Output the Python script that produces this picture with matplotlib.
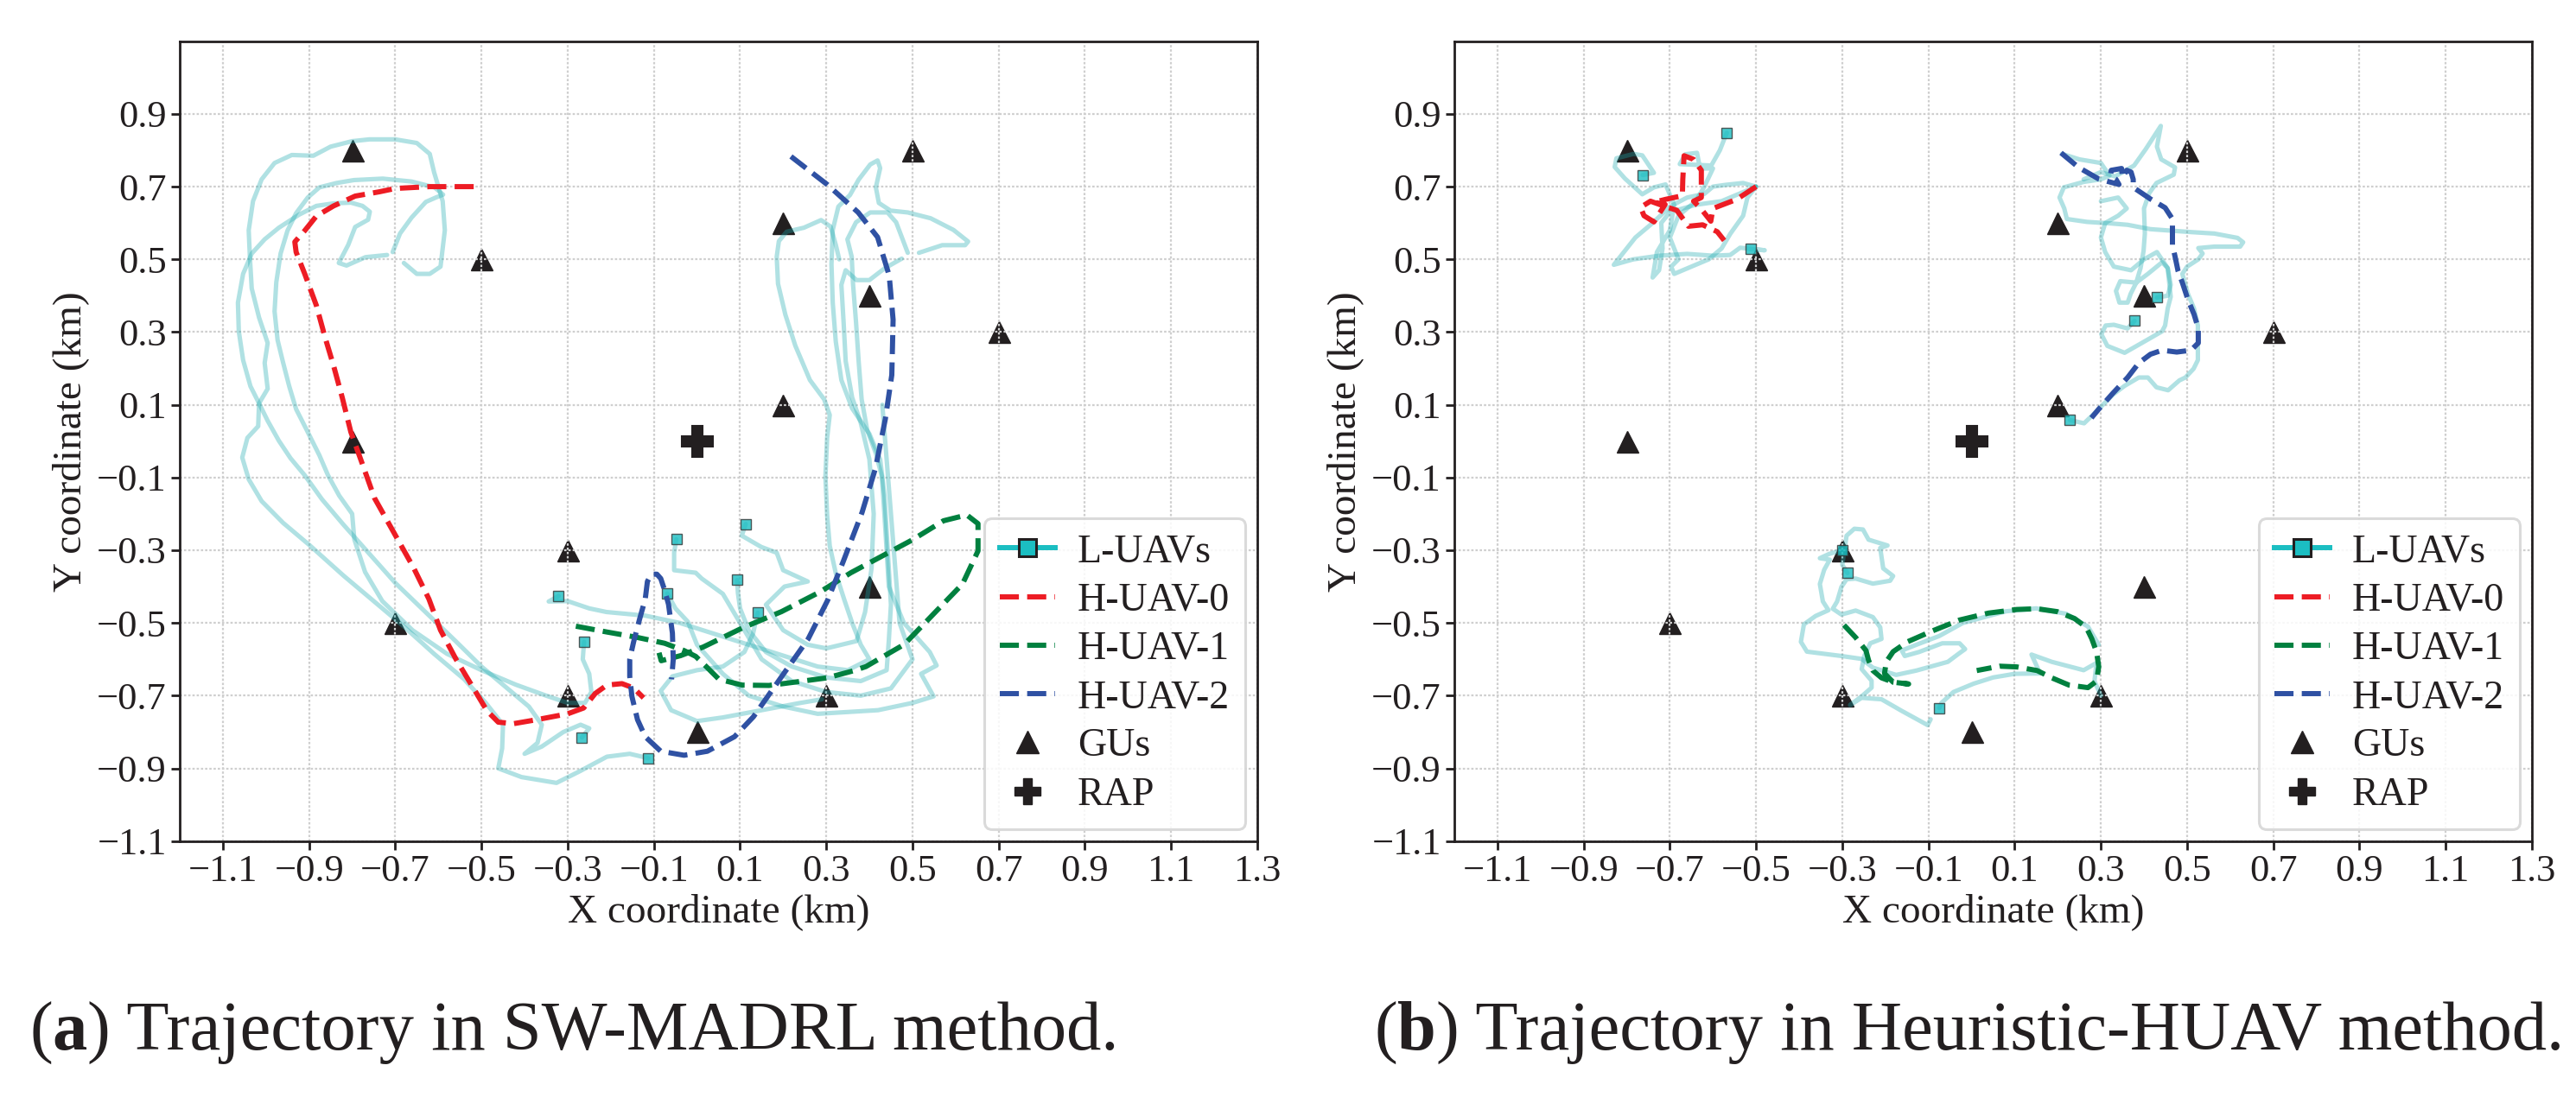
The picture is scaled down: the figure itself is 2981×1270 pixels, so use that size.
import numpy as np
import matplotlib
matplotlib.use('Agg')
import matplotlib.pyplot as plt
from matplotlib.lines import Line2D

plt.rcParams['font.family'] = ['Liberation Serif', 'DejaVu Serif']
plt.rcParams['axes.unicode_minus'] = True

# ---------------- data ----------------
gu_x = [-0.8, -0.5, 0.5, 0.2, 0.4, 0.7, 0.2, -0.8, -0.3, 0.4, -0.7, -0.3, 0.3, 0.0]
gu_y = [0.8, 0.5, 0.8, 0.6, 0.4, 0.3, 0.1, 0.0, -0.3, -0.4, -0.5, -0.7, -0.7, -0.8]
rap = (0.0, 0.0)

x_ticks = [-1.1, -0.9, -0.7, -0.5, -0.3, -0.1, 0.1, 0.3, 0.5, 0.7, 0.9, 1.1, 1.3]
y_ticks = [-1.1, -0.9, -0.7, -0.5, -0.3, -0.1, 0.1, 0.3, 0.5, 0.7, 0.9]

# (a) SW-MADRL: L-UAV trajectories (last point = final position)
a_luav = [
    [(-0.68, 0.49), (-0.65, 0.46), (-0.62, 0.46), (-0.595, 0.48), (-0.585, 0.58), (-0.59, 0.66),
     (-0.61, 0.74), (-0.62, 0.79), (-0.65, 0.82), (-0.70, 0.83), (-0.76, 0.83), (-0.80, 0.825),
     (-0.85, 0.81), (-0.89, 0.785), (-0.94, 0.787), (-0.98, 0.765), (-1.01, 0.72), (-1.03, 0.66),
     (-1.04, 0.58), (-1.037, 0.50), (-1.033, 0.42), (-1.016, 0.34), (-0.996, 0.27), (-1.003, 0.215),
     (-0.996, 0.144), (-1.016, 0.104), (-1.018, 0.041), (-1.043, 0.009), (-1.055, -0.045),
     (-1.04, -0.105), (-1.01, -0.165), (-0.96, -0.225), (-0.90, -0.285), (-0.82, -0.37),
     (-0.75, -0.44), (-0.68, -0.51), (-0.61, -0.585), (-0.54, -0.655), (-0.49, -0.72),
     (-0.45, -0.78), (-0.452, -0.845), (-0.461, -0.90), (-0.407, -0.924), (-0.326, -0.94),
     (-0.272, -0.908), (-0.209, -0.868), (-0.156, -0.86), (-0.113, -0.872)],
    [(-0.706, 0.52), (-0.689, 0.571), (-0.662, 0.615), (-0.629, 0.658), (-0.606, 0.67),
     (-0.589, 0.678), (-0.609, 0.698), (-0.662, 0.714), (-0.729, 0.722), (-0.796, 0.718),
     (-0.836, 0.71), (-0.876, 0.698), (-0.903, 0.67), (-0.93, 0.627), (-0.95, 0.579),
     (-0.966, 0.516), (-0.976, 0.437), (-0.98, 0.357), (-0.973, 0.278), (-0.96, 0.215),
     (-0.946, 0.151), (-0.93, 0.088), (-0.903, 0.025), (-0.876, -0.039), (-0.856, -0.094),
     (-0.83, -0.15), (-0.80, -0.20), (-0.795, -0.27), (-0.77, -0.36), (-0.73, -0.44),
     (-0.66, -0.52), (-0.58, -0.585), (-0.50, -0.63), (-0.42, -0.67), (-0.35, -0.70),
     (-0.30, -0.72), (-0.26, -0.72), (-0.245, -0.69), (-0.25, -0.64), (-0.265, -0.60),
     (-0.262, -0.552)],
    [(-0.719, 0.512), (-0.769, 0.506), (-0.813, 0.483), (-0.831, 0.49), (-0.809, 0.54),
     (-0.793, 0.589), (-0.763, 0.609), (-0.759, 0.631), (-0.776, 0.647), (-0.803, 0.656),
     (-0.843, 0.654), (-0.883, 0.647), (-0.923, 0.623), (-0.97, 0.587), (-1.003, 0.555),
     (-1.033, 0.516), (-1.053, 0.46), (-1.065, 0.381), (-1.063, 0.302), (-1.053, 0.223),
     (-1.036, 0.151), (-1.016, 0.104), (-0.996, 0.056), (-0.97, 0.001), (-0.943, -0.047),
     (-0.91, -0.094), (-0.87, -0.16), (-0.82, -0.23), (-0.76, -0.31), (-0.70, -0.39),
     (-0.63, -0.47), (-0.56, -0.55), (-0.50, -0.62), (-0.44, -0.68), (-0.39, -0.73),
     (-0.36, -0.78), (-0.37, -0.83), (-0.40, -0.86), (-0.36, -0.84), (-0.31, -0.80),
     (-0.27, -0.78), (-0.25, -0.79), (-0.267, -0.815)],
    [(0.33, 0.50), (0.322, 0.54), (0.31, 0.59), (0.288, 0.608), (0.248, 0.587), (0.208, 0.576),
     (0.19, 0.55), (0.185, 0.507), (0.188, 0.433), (0.205, 0.348), (0.228, 0.263), (0.262, 0.168),
     (0.295, 0.115), (0.308, 0.072), (0.302, 0.009), (0.298, -0.097), (0.302, -0.204),
     (0.308, -0.288), (0.322, -0.363), (0.342, -0.437), (0.36, -0.50), (0.38, -0.56),
     (0.40, -0.60), (0.35, -0.63), (0.28, -0.62), (0.20, -0.59), (0.12, -0.56), (0.04, -0.53),
     (-0.04, -0.50), (-0.12, -0.48), (-0.21, -0.47), (-0.25, -0.46), (-0.30, -0.44),
     (-0.344, -0.441), (-0.321, -0.426)],
    [(0.515, 0.518), (0.569, 0.539), (0.622, 0.539), (0.629, 0.549), (0.595, 0.581),
     (0.542, 0.613), (0.489, 0.629), (0.449, 0.634), (0.422, 0.655), (0.415, 0.698),
     (0.425, 0.751), (0.419, 0.772), (0.402, 0.761), (0.375, 0.719), (0.355, 0.677),
     (0.328, 0.645), (0.315, 0.581), (0.312, 0.486), (0.315, 0.38), (0.322, 0.274),
     (0.335, 0.168), (0.36, 0.09), (0.40, 0.02), (0.425, -0.05), (0.435, -0.15), (0.44, -0.25),
     (0.445, -0.35), (0.45, -0.45), (0.445, -0.55), (0.44, -0.63), (0.38, -0.66), (0.30, -0.65),
     (0.22, -0.62), (0.16, -0.58), (0.12, -0.52), (0.10, -0.46), (0.095, -0.418), (0.093, -0.382)],
    [(0.489, 0.518), (0.462, 0.602), (0.442, 0.629), (0.402, 0.629), (0.369, 0.602),
     (0.349, 0.555), (0.359, 0.507), (0.362, 0.433), (0.369, 0.327), (0.375, 0.221),
     (0.382, 0.115), (0.395, 0.03), (0.415, -0.034), (0.429, -0.097), (0.435, -0.204),
     (0.44, -0.30), (0.445, -0.40), (0.48, -0.50), (0.54, -0.58), (0.556, -0.617), (0.52, -0.64),
     (0.549, -0.702), (0.50, -0.72), (0.42, -0.74), (0.35, -0.745), (0.28, -0.75), (0.20, -0.73),
     (0.12, -0.70), (0.06, -0.64), (0.0, -0.56), (-0.021, -0.497), (-0.05, -0.46),
     (-0.069, -0.419)],
    [(0.475, 0.502), (0.435, 0.475), (0.40, 0.443), (0.37, 0.443), (0.345, 0.47), (0.335, 0.43),
     (0.34, 0.33), (0.345, 0.22), (0.36, 0.12), (0.38, 0.05), (0.40, -0.05), (0.41, -0.20),
     (0.405, -0.35), (0.39, -0.47), (0.37, -0.55), (0.30, -0.57), (0.257, -0.56), (0.20, -0.52),
     (0.16, -0.45), (0.203, -0.40), (0.257, -0.386), (0.20, -0.355), (0.185, -0.307),
     (0.149, -0.291), (0.104, -0.26), (0.113, -0.228)],
    [(0.43, 0.10), (0.44, -0.05), (0.45, -0.20), (0.46, -0.35), (0.47, -0.50), (0.50, -0.60),
     (0.45, -0.68), (0.38, -0.70), (0.30, -0.69), (0.22, -0.66), (0.15, -0.60), (0.10, -0.50),
     (0.06, -0.42), (0.011, -0.378), (-0.003, -0.362), (-0.053, -0.355), (-0.053, -0.307),
     (-0.048, -0.27)],
    [(0.29, -0.71), (0.24, -0.72), (0.15, -0.74), (0.06, -0.76), (0.0, -0.77), (-0.06, -0.74),
     (-0.084, -0.687), (-0.057, -0.647), (0.0, -0.63), (0.06, -0.62), (0.11, -0.58),
     (0.13, -0.53), (0.141, -0.472)],
]

a_huav = [
    [(-0.518, 0.70), (-0.62, 0.70), (-0.70, 0.695), (-0.736, 0.686), (-0.793, 0.674),
     (-0.843, 0.647), (-0.883, 0.619), (-0.91, 0.579), (-0.933, 0.548), (-0.93, 0.52),
     (-0.91, 0.46), (-0.883, 0.373), (-0.863, 0.286), (-0.843, 0.207), (-0.823, 0.12),
     (-0.803, 0.025), (-0.779, -0.054), (-0.748, -0.157), (-0.703, -0.252), (-0.658, -0.347),
     (-0.622, -0.434), (-0.595, -0.52), (-0.559, -0.60), (-0.523, -0.671), (-0.487, -0.742),
     (-0.461, -0.773), (-0.425, -0.777), (-0.371, -0.766), (-0.30, -0.75), (-0.263, -0.734),
     (-0.236, -0.694), (-0.209, -0.671), (-0.174, -0.667), (-0.147, -0.679), (-0.124, -0.706)],
    [(-0.281, -0.509), (-0.209, -0.525), (-0.138, -0.54), (-0.075, -0.556), (-0.03, -0.576),
     (-0.003, -0.592), (0.024, -0.623), (0.051, -0.655), (0.105, -0.671), (0.167, -0.672),
     (0.239, -0.661), (0.302, -0.651), (0.365, -0.631), (0.392, -0.62), (0.481, -0.559),
     (0.554, -0.469), (0.616, -0.393), (0.652, -0.302), (0.652, -0.227), (0.626, -0.203),
     (0.572, -0.219), (0.499, -0.272), (0.428, -0.317), (0.357, -0.362), (0.285, -0.415),
     (0.196, -0.469), (0.105, -0.514), (0.015, -0.566), (-0.038, -0.59), (-0.083, -0.604),
     (-0.088, -0.582)],
    [(0.218, 0.783), (0.303, 0.705), (0.374, 0.629), (0.419, 0.561), (0.446, 0.455),
     (0.455, 0.334), (0.452, 0.182), (0.437, 0.061), (0.414, -0.075), (0.383, -0.196),
     (0.339, -0.332), (0.303, -0.438), (0.258, -0.544), (0.195, -0.65), (0.131, -0.758),
     (0.087, -0.813), (0.024, -0.853), (-0.03, -0.864), (-0.084, -0.853), (-0.12, -0.813),
     (-0.138, -0.766), (-0.151, -0.702), (-0.156, -0.647), (-0.156, -0.60), (-0.147, -0.552),
     (-0.133, -0.489), (-0.12, -0.434), (-0.115, -0.386), (-0.106, -0.366), (-0.093, -0.366),
     (-0.084, -0.378), (-0.075, -0.41), (-0.066, -0.449), (-0.057, -0.528), (-0.055, -0.60),
     (-0.059, -0.655)],
]

# (b) Heuristic-HUAV
b_luav = [
    [(-0.50, 0.70), (-0.53, 0.71), (-0.57, 0.705), (-0.60, 0.70), (-0.62, 0.68), (-0.66, 0.67),
     (-0.70, 0.645), (-0.74, 0.60), (-0.78, 0.56), (-0.83, 0.485), (-0.785, 0.50), (-0.725, 0.51),
     (-0.66, 0.515), (-0.60, 0.51), (-0.56, 0.512), (-0.537, 0.532), (-0.48, 0.525),
     (-0.513, 0.528)],
    [(-0.50, 0.70), (-0.54, 0.68), (-0.58, 0.66), (-0.64, 0.65), (-0.70, 0.63), (-0.72, 0.60),
     (-0.717, 0.53), (-0.725, 0.47), (-0.74, 0.45), (-0.73, 0.52), (-0.70, 0.58), (-0.69, 0.65),
     (-0.71, 0.706), (-0.737, 0.698), (-0.764, 0.679), (-0.804, 0.722), (-0.828, 0.754),
     (-0.824, 0.778), (-0.784, 0.79), (-0.764, 0.786), (-0.737, 0.738), (-0.763, 0.732)],
    [(-0.50, 0.70), (-0.52, 0.67), (-0.53, 0.62), (-0.56, 0.57), (-0.58, 0.53), (-0.61, 0.50),
     (-0.65, 0.48), (-0.69, 0.46), (-0.697, 0.48), (-0.68, 0.50), (-0.70, 0.56), (-0.68, 0.62),
     (-0.64, 0.66), (-0.62, 0.70), (-0.60, 0.75), (-0.63, 0.75), (-0.637, 0.793),
     (-0.664, 0.789), (-0.677, 0.762), (-0.64, 0.76), (-0.604, 0.758), (-0.584, 0.80),
     (-0.568, 0.848)],
    [(0.21, 0.79), (0.25, 0.775), (0.30, 0.765), (0.32, 0.73), (0.30, 0.72), (0.26, 0.713),
     (0.214, 0.698), (0.204, 0.67), (0.215, 0.64), (0.221, 0.611), (0.268, 0.603),
     (0.321, 0.599), (0.362, 0.595), (0.415, 0.583), (0.462, 0.579), (0.509, 0.575),
     (0.563, 0.571), (0.617, 0.559), (0.63, 0.547), (0.623, 0.535), (0.563, 0.535),
     (0.526, 0.531), (0.536, 0.516), (0.526, 0.50), (0.50, 0.48), (0.489, 0.46), (0.502, 0.405),
     (0.516, 0.365), (0.525, 0.318), (0.525, 0.254), (0.525, 0.223), (0.515, 0.199),
     (0.496, 0.175), (0.482, 0.167), (0.456, 0.14), (0.429, 0.148), (0.409, 0.175),
     (0.388, 0.175), (0.355, 0.152), (0.328, 0.128), (0.288, 0.08), (0.261, 0.049),
     (0.228, 0.058)],
    [(0.26, 0.72), (0.30, 0.74), (0.333, 0.728), (0.377, 0.758), (0.404, 0.803), (0.439, 0.867),
     (0.43, 0.81), (0.44, 0.775), (0.472, 0.753), (0.469, 0.733), (0.429, 0.71), (0.412, 0.682),
     (0.40, 0.64), (0.402, 0.571), (0.399, 0.523), (0.392, 0.476), (0.382, 0.436),
     (0.369, 0.405), (0.362, 0.381), (0.343, 0.381), (0.335, 0.413), (0.345, 0.44),
     (0.382, 0.436), (0.409, 0.46), (0.442, 0.492), (0.455, 0.476), (0.462, 0.43),
     (0.455, 0.40), (0.43, 0.395)],
    [(0.30, 0.66), (0.34, 0.67), (0.36, 0.64), (0.34, 0.62), (0.31, 0.60), (0.30, 0.56),
     (0.31, 0.52), (0.33, 0.48), (0.37, 0.47), (0.40, 0.50), (0.43, 0.52), (0.455, 0.476),
     (0.462, 0.397), (0.455, 0.365), (0.449, 0.318), (0.442, 0.302), (0.395, 0.27),
     (0.355, 0.243), (0.315, 0.262), (0.301, 0.294), (0.311, 0.318), (0.33, 0.32),
     (0.362, 0.31), (0.378, 0.331)],
    [(0.30, -0.70), (0.285, -0.66), (0.29, -0.61), (0.26, -0.63), (0.186, -0.607),
     (0.139, -0.587), (0.159, -0.639), (0.10, -0.64), (0.05, -0.65), (0.005, -0.667),
     (-0.042, -0.69), (-0.07, -0.72), (-0.075, -0.734)],
    [(0.295, -0.56), (0.27, -0.51), (0.22, -0.475), (0.15, -0.46), (0.08, -0.468),
     (0.039, -0.481), (-0.02, -0.50), (-0.075, -0.536), (-0.128, -0.56), (-0.162, -0.576),
     (-0.155, -0.591), (-0.122, -0.58), (-0.068, -0.556), (-0.028, -0.556), (-0.015, -0.572),
     (-0.028, -0.583), (-0.055, -0.607), (-0.128, -0.631), (-0.175, -0.643), (-0.229, -0.623),
     (-0.255, -0.599), (-0.302, -0.591), (-0.382, -0.579), (-0.396, -0.552), (-0.389, -0.504),
     (-0.362, -0.481), (-0.332, -0.465), (-0.345, -0.441), (-0.352, -0.393), (-0.342, -0.354),
     (-0.329, -0.326), (-0.352, -0.322), (-0.33, -0.31), (-0.30, -0.30)],
    [(-0.095, -0.765), (-0.102, -0.781), (-0.162, -0.742), (-0.209, -0.71), (-0.255, -0.706),
     (-0.282, -0.726), (-0.255, -0.702), (-0.232, -0.678), (-0.232, -0.659), (-0.255, -0.627),
     (-0.249, -0.591), (-0.235, -0.556), (-0.209, -0.544), (-0.212, -0.512), (-0.229, -0.484),
     (-0.269, -0.466), (-0.302, -0.477), (-0.322, -0.461), (-0.312, -0.441), (-0.302, -0.401),
     (-0.29, -0.38), (-0.269, -0.378), (-0.229, -0.392), (-0.189, -0.384), (-0.182, -0.371),
     (-0.205, -0.35), (-0.212, -0.294), (-0.195, -0.287), (-0.239, -0.271), (-0.252, -0.243),
     (-0.272, -0.241), (-0.29, -0.26), (-0.295, -0.30), (-0.30, -0.34), (-0.288, -0.363)],
]

b_huav = [
    [(-0.50, 0.70), (-0.545, 0.665), (-0.60, 0.64), (-0.605, 0.605), (-0.625, 0.635),
     (-0.645, 0.66), (-0.627, 0.67), (-0.627, 0.745), (-0.645, 0.775), (-0.667, 0.785),
     (-0.67, 0.72), (-0.671, 0.675), (-0.71, 0.665), (-0.737, 0.657), (-0.711, 0.651),
     (-0.737, 0.603), (-0.76, 0.62), (-0.768, 0.643), (-0.745, 0.66), (-0.71, 0.645),
     (-0.684, 0.635), (-0.657, 0.591), (-0.624, 0.595), (-0.59, 0.576), (-0.574, 0.552)],
    [(-0.296, -0.506), (-0.269, -0.54), (-0.245, -0.576), (-0.239, -0.603), (-0.229, -0.631),
     (-0.209, -0.651), (-0.182, -0.663), (-0.146, -0.668), (-0.182, -0.663), (-0.202, -0.639),
     (-0.198, -0.607), (-0.182, -0.579), (-0.149, -0.552), (-0.095, -0.524), (-0.028, -0.492),
     (0.039, -0.473), (0.105, -0.463), (0.152, -0.461), (0.199, -0.469), (0.239, -0.488),
     (0.266, -0.512), (0.279, -0.544), (0.29, -0.58), (0.295, -0.62), (0.29, -0.66),
     (0.27, -0.678), (0.226, -0.671), (0.186, -0.651), (0.152, -0.631), (0.105, -0.621),
     (0.065, -0.619), (0.012, -0.631)],
    [(0.2075, 0.793), (0.248, 0.753), (0.295, 0.721), (0.342, 0.706), (0.335, 0.72),
     (0.322, 0.73), (0.324, 0.745), (0.348, 0.75), (0.35, 0.725), (0.36, 0.745), (0.37, 0.74),
     (0.375, 0.72), (0.375, 0.698), (0.415, 0.666), (0.449, 0.642), (0.466, 0.611),
     (0.466, 0.571), (0.466, 0.539), (0.472, 0.508), (0.479, 0.468), (0.489, 0.436),
     (0.502, 0.389), (0.516, 0.349), (0.526, 0.31), (0.526, 0.27), (0.509, 0.25),
     (0.476, 0.245), (0.442, 0.25), (0.415, 0.239), (0.388, 0.215), (0.362, 0.175),
     (0.328, 0.132), (0.295, 0.088), (0.278, 0.064)],
]

huav_names = ['H-UAV-0', 'H-UAV-1', 'H-UAV-2']
huav_colors = ['#ed1c24', '#00803f', '#2f51a3']
luav_line = '#1aa9ad'
luav_color = '#1bbec2'
black = '#231f20'
captions = [('a', ' Trajectory in SW-MADRL method.'),
            ('b', ' Trajectory in Heuristic-HUAV method.')]

### PLOT ###

W, H = 2981, 1270
fig = plt.figure(figsize=(W / 100, H / 100), dpi=100)

ax_l = fig.add_axes([208 / W, 1 - 973.7 / H, 1247 / W, 926 / H])
ax_r = fig.add_axes([1683 / W, 1 - 973.7 / H, 1247 / W, 926 / H])


def fmt(v):
    return ('%.1f' % v).replace('-', '\u2212')


def draw_panel(ax, luav, huav):
    ax.plot(gu_x, gu_y, linestyle='none', marker='^', ms=18, color=black, zorder=1)
    ax.plot([rap[0]], [rap[1]], linestyle='none', marker='P', ms=26, color=black,
            mec=black, mew=1.5, zorder=1)
    for path in luav:
        xs, ys = zip(*path)
        ax.plot(xs, ys, color=luav_line, alpha=0.34, lw=3.7, zorder=2,
                solid_capstyle='round', solid_joinstyle='round')
        ax.plot([xs[-1]], [ys[-1]], linestyle='none', marker='s', ms=8.5, color=luav_color,
                mec='#333333', mew=1.0, alpha=0.8, zorder=3)
    for path, c in zip(huav, huav_colors):
        xs, ys = zip(*path)
        ax.plot(xs, ys, color=c, lw=4.3, linestyle='--', zorder=4)

    ax.set_xlim(-1.2, 1.3)
    ax.set_ylim(-1.1, 1.1)
    ax.set_xticks(x_ticks)
    ax.set_yticks(y_ticks)
    ax.set_xticklabels([fmt(v) for v in x_ticks])
    ax.set_yticklabels([fmt(v) for v in y_ticks])
    ax.tick_params(labelsize=32, length=7, width=2, direction='out', color=black,
                   labelcolor=black, pad=4)
    for s in ax.spines.values():
        s.set_linewidth(2)
        s.set_color(black)
    ax.set_axisbelow('line')
    ax.grid(True, color='#cfcfcf', lw=1.6, linestyle=(0, (1.2, 1.0)))
    ax.set_xlabel('X coordinate (km)', fontsize=34, color=black, labelpad=4)
    ax.set_ylabel('Y coordinate (km)', fontsize=34, color=black, labelpad=6)

    handles = [
        Line2D([], [], color=luav_color, lw=4.3, marker='s', ms=15, mfc=luav_color,
               mec=black, mew=2.2),
    ]
    for c in huav_colors:
        handles.append(Line2D([], [], color=c, lw=4.3, linestyle='--'))
    handles.append(Line2D([], [], linestyle='none', marker='^', ms=19, color=black))
    handles.append(Line2D([], [], linestyle='none', marker='P', ms=22, color=black))
    labels = ['L-UAVs'] + huav_names + ['GUs', 'RAP']
    leg = ax.legend(handles, labels, loc='lower right', fontsize=33, frameon=True,
                    fancybox=True, framealpha=0.85, edgecolor='#d4d4d4',
                    handlelength=1.4, handletextpad=0.55, labelspacing=0.3,
                    borderpad=0.4, borderaxespad=0.3)
    leg.get_frame().set_linewidth(2.2)
    for t in leg.get_texts():
        t.set_color(black)


draw_panel(ax_l, a_luav, a_huav)
draw_panel(ax_r, b_luav, b_huav)

# captions with bold sub-figure letter
fig.canvas.draw()
renderer = fig.canvas.get_renderer()
cap_fs = 58
for x0, (letter, rest) in zip([34, 1590], captions):
    x = x0
    for txt, wt in [('(', 'normal'), (letter, 'bold'), (')' + rest, 'normal')]:
        t = fig.text(x / W, 1 - 1196 / H, txt, fontsize=cap_fs, fontweight=wt,
                     va='center', ha='left', color=black,
                     family=['Liberation Serif', 'DejaVu Serif'])
        bb = t.get_window_extent(renderer)
        x = x + bb.width

fig.savefig('out.png', dpi=100)
